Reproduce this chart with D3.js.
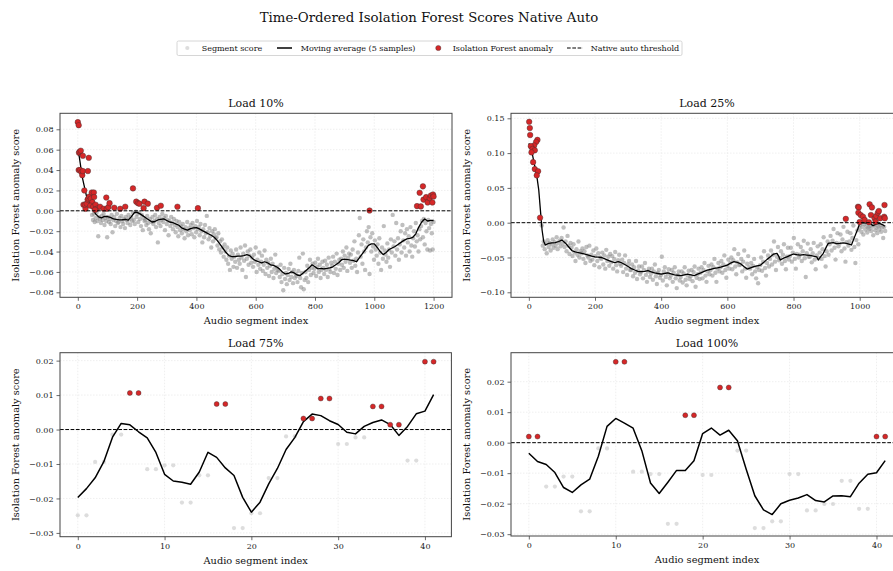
<!DOCTYPE html>
<html>
<head>
<meta charset="utf-8">
<script src="https://cdn.jsdelivr.net/npm/d3@7"></script>
<style>
  body { margin: 0; background: #fff; }
  svg { display: block; font-family: "DejaVu Serif", serif; }
</style>
</head>
<body>
<svg id="chart"></svg>
<script>
// ---- data ----
const THRESHOLD = 0;

// Load 10%: segment scores sampled every 3rd segment from index 48
const load10CloudStart = 48;
const load10Cloud = [
  -.004,-.009,-.003,-.011,-.007,-.002,-.010,-.025,-.006,-.008,
  -.012,-.005,-.009,-.003,-.014,-.007,-.010,-.026,-.006,-.011,
  -.008,-.013,-.004,-.021,-.009,-.006,-.015,-.010,-.003,-.012,
  -.011,-.007,-.016,-.005,-.010,-.013,-.008,-.017,-.006,-.009,
  -.012,-.004,-.008,-.014,-.006,-.010,-.002,-.009,-.013,-.001,
  -.006,-.003,-.011,-.002,-.008,-.015,-.004,-.019,-.007,-.010,
  -.009,-.014,-.005,-.012,-.018,-.008,-.022,-.011,-.006,-.013,
  -.010,-.004,-.016,-.008,-.031,-.012,-.006,-.015,-.009,-.003,
  -.011,-.007,-.019,-.005,-.013,-.009,-.024,-.010,-.015,-.006,
  -.012,-.018,-.008,-.014,-.021,-.010,-.016,-.025,-.011,-.019,
  -.015,-.022,-.013,-.018,-.027,-.016,-.020,-.011,-.024,-.017,
  -.019,-.014,-.023,-.012,-.017,-.026,-.015,-.021,-.010,-.018,
  -.016,-.024,-.013,-.020,-.031,-.018,-.026,-.014,-.022,-.005,
  -.021,-.028,-.017,-.025,-.036,-.020,-.030,-.023,-.018,-.027,
  -.026,-.034,-.022,-.038,-.030,-.041,-.028,-.036,-.045,-.033,
  -.040,-.048,-.036,-.052,-.044,-.058,-.039,-.047,-.042,-.055,
  -.045,-.050,-.038,-.056,-.043,-.048,-.052,-.036,-.046,-.058,
  -.042,-.049,-.034,-.065,-.047,-.040,-.053,-.044,-.038,-.051,
  -.046,-.055,-.043,-.050,-.036,-.060,-.048,-.053,-.041,-.057,
  -.050,-.044,-.059,-.053,-.039,-.062,-.048,-.056,-.051,-.064,
  -.054,-.047,-.060,-.052,-.066,-.057,-.043,-.061,-.055,-.058,
  -.059,-.065,-.053,-.070,-.062,-.078,-.056,-.067,-.061,-.072,
  -.063,-.057,-.068,-.052,-.065,-.060,-.071,-.058,-.066,-.062,
  -.064,-.070,-.059,-.046,-.066,-.075,-.061,-.042,-.077,-.068,
  -.060,-.066,-.054,-.070,-.058,-.048,-.063,-.056,-.052,-.061,
  -.057,-.051,-.064,-.055,-.047,-.060,-.053,-.066,-.058,-.050,
  -.056,-.062,-.049,-.058,-.053,-.065,-.046,-.057,-.060,-.051,
  -.054,-.045,-.061,-.050,-.057,-.042,-.063,-.052,-.048,-.058,
  -.047,-.053,-.040,-.056,-.044,-.050,-.036,-.059,-.046,-.042,
  -.051,-.043,-.056,-.038,-.049,-.030,-.054,-.047,-.060,-.041,
  -.024,-.007,-.045,-.033,-.052,-.028,-.040,-.058,-.036,-.020,
  -.031,-.016,-.062,-.026,-.040,-.022,-.035,-.048,-.029,-.038,
  -.044,-.033,-.052,-.027,-.041,-.058,-.036,-.047,-.015,-.039,
  -.043,-.050,-.032,-.046,-.038,-.055,-.028,-.041,-.004,-.035,
  -.030,-.044,-.012,-.038,-.027,-.048,-.033,-.020,-.041,-.014,
  -.029,-.036,-.022,-.044,-.018,-.031,-.025,-.040,-.016,-.034,
  -.045,-.027,-.020,-.035,-.012,-.030,-.024,-.040,-.018,-.028,
  -.015,-.010,-.026,-.008,-.033,-.012,-.020,-.038,-.009,-.017,
  -.039,-.013,-.022,-.038,-.011
];
const load10Anomalies = [
  [0,.087],[3,.084],[4,.057],[6,.058],[10,.059],[3,.040],[8,.040],[12,.038],[15,.035],
  [17,.054],[17,.039],[22,.020],[19,.006],[26,.002],[24,.006],[30,.007],[33,.011],
  [36,.012],[39,.014],[37,.052],[34,.039],[44,.012],[47,.018],[49,.0085],[42,.005],
  [54,.018],[55,.0135],[52,.004],[60,.006],[64,.002],[58,.001],[75,.004],[87,.002],
  [96,.013],[98,.002],[103,.0036],[107,.0075],[123,.003],[143,.002],[160,.004],
  [186,.022],[197,.009],[203,.0075],[208,.007],[222,.0026],[225,.009],[236,.007],
  [267,.003],[280,.005],[336,.004],[405,.0026],[984,.0003],[1144,.0046],[1153,.0177],
  [1157,.0043],[1164,.024],[1166,.011],[1175,.0134],[1180,.0082],[1187,.0124],
  [1191,.015],[1196,.0082],[1198,.016],[1200,.014]
];
const load10Trend = [
  [0,.0576],[5,.053],[10,.043],[15,.033],[20,.0265],[25,.02],[30,.0134],[40,.007],[50,.002],
  [60,-.003],[70,-.006],[80,-.007],[90,-.0055],[100,-.0056],[110,-.0065],[120,-.008],
  [130,-.0085],[140,-.009],[150,-.0088],[160,-.0085],[170,-.0092],[180,-.006],[190,-.002],
  [195,-.0013],[200,-.0015],[210,-.003],[220,-.005],[230,-.007],[240,-.009],[250,-.011],
  [260,-.0105],[270,-.009],[280,-.0085],[290,-.008],[300,-.0095],[310,-.011],[320,-.0115],
  [330,-.0128],[340,-.014],[350,-.0167],[360,-.018],[370,-.019],[380,-.0175],[390,-.0167],
  [400,-.0165],[410,-.0177],[420,-.0195],[430,-.021],[440,-.0225],[450,-.024],[460,-.026],
  [470,-.029],[480,-.033],[490,-.037],[500,-.041],[510,-.044],[520,-.045],[530,-.045],
  [540,-.0445],[550,-.0445],[560,-.044],[570,-.043],[580,-.044],[590,-.047],[600,-.049],
  [610,-.050],[620,-.051],[630,-.050],[640,-.051],[650,-.053],[660,-.0535],[670,-.055],
  [680,-.057],[690,-.060],[700,-.062],[710,-.0615],[720,-.060],[730,-.061],[740,-.063],
  [750,-.0635],[760,-.061],[770,-.0585],[780,-.056],[790,-.053],[800,-.055],[810,-.057],
  [820,-.0565],[830,-.057],[840,-.0565],[850,-.056],[860,-.055],[870,-.053],[880,-.051],
  [890,-.048],[900,-.0475],[910,-.048],[920,-.0485],[930,-.049],[940,-.050],[950,-.046],
  [960,-.042],[970,-.038],[980,-.034],[990,-.0325],[1000,-.0325],[1010,-.036],[1020,-.040],
  [1030,-.043],[1040,-.041],[1050,-.038],[1060,-.0365],[1070,-.035],[1080,-.033],
  [1090,-.031],[1100,-.029],[1110,-.0275],[1120,-.027],[1130,-.026],[1140,-.0226],
  [1150,-.016],[1160,-.011],[1170,-.008],[1180,-.010],[1190,-.0095],[1200,-.0095]
];

// Load 25%: segment scores sampled every 3rd segment from index 39
const load25CloudStart = 39;
const load25Cloud = [
  -.004,-.033,-.027,-.038,-.030,-.044,-.025,-.035,-.029,-.040,
  -.031,-.024,-.036,-.028,-.033,-.021,-.038,-.029,-.026,-.034,
  -.022,-.030,-.007,-.035,-.027,-.041,-.019,-.033,-.045,-.029,
  -.036,-.048,-.031,-.043,-.055,-.038,-.046,-.027,-.050,-.041,
  -.044,-.037,-.052,-.041,-.058,-.035,-.047,-.050,-.033,-.055,
  -.046,-.053,-.040,-.061,-.048,-.037,-.055,-.044,-.064,-.050,
  -.052,-.043,-.060,-.047,-.066,-.039,-.055,-.049,-.062,-.045,
  -.057,-.048,-.066,-.052,-.042,-.061,-.070,-.054,-.046,-.059,
  -.062,-.053,-.071,-.058,-.047,-.066,-.075,-.060,-.055,-.068,
  -.068,-.060,-.077,-.064,-.072,-.055,-.081,-.069,-.063,-.074,
  -.071,-.063,-.080,-.068,-.058,-.075,-.085,-.070,-.066,-.078,
  -.073,-.066,-.082,-.070,-.060,-.077,-.088,-.072,-.068,-.079,
  -.075,-.049,-.083,-.070,-.064,-.078,-.090,-.073,-.067,-.080,
  -.076,-.068,-.085,-.072,-.064,-.080,-.094,-.075,-.070,-.083,
  -.078,-.070,-.086,-.073,-.064,-.082,-.090,-.076,-.069,-.081,
  -.077,-.068,-.084,-.071,-.063,-.092,-.079,-.074,-.066,-.081,
  -.072,-.064,-.080,-.068,-.058,-.076,-.085,-.070,-.062,-.074,
  -.068,-.060,-.076,-.064,-.052,-.072,-.085,-.066,-.058,-.070,
  -.064,-.055,-.072,-.060,-.047,-.068,-.079,-.062,-.053,-.066,
  -.058,-.050,-.067,-.054,-.038,-.063,-.074,-.057,-.045,-.061,
  -.060,-.052,-.070,-.056,-.040,-.066,-.079,-.059,-.048,-.064,
  -.066,-.058,-.074,-.062,-.052,-.070,-.080,-.064,-.087,-.068,
  -.061,-.050,-.069,-.056,-.041,-.065,-.076,-.058,-.047,-.063,
  -.052,-.040,-.060,-.046,-.027,-.056,-.068,-.049,-.035,-.054,
  -.051,-.041,-.059,-.046,-.031,-.055,-.067,-.049,-.036,-.053,
  -.048,-.036,-.056,-.043,-.022,-.052,-.066,-.045,-.031,-.050,
  -.046,-.035,-.055,-.041,-.026,-.051,-.078,-.044,-.030,-.049,
  -.049,-.038,-.057,-.044,-.029,-.053,-.067,-.047,-.034,-.051,
  -.043,-.031,-.052,-.038,-.021,-.048,-.063,-.041,-.027,-.046,
  -.031,-.019,-.040,-.026,-.009,-.036,-.053,-.029,-.015,-.034,
  -.030,-.017,-.041,-.024,-.006,-.037,-.056,-.028,-.013,-.033,
  -.027,-.015,-.039,-.022,-.004,-.035,-.058,-.025,-.011,-.031,
  -.008,-.003,-.013,-.006,-.017,-.002,-.010,-.005,-.014,-.007,
  -.009,-.004,-.012,-.006,-.018,-.003,-.011,-.007,-.015,-.005,
  -.010,-.004,-.013,-.007,-.022,-.006,-.012
];
const load25Anomalies = [
  [1,.145],[3,.136],[4,.126],[26,.119],[22,.116],[16,.111],[6,.110],[11,.106],[18,.104],
  [8,.101],[13,.087],[18,.077],[28,.074],[24,.068],[34,.0072],[958,.0055],[995,.023],
  [997,.022],[996,.0144],[1000,.001],[1003,.011],[1010,.0086],[1015,.004],[1028,.0006],
  [1030,.0265],[1037,.022],[1034,.011],[1045,.0063],[1048,.0015],[1050,.0096],
  [1055,.0144],[1058,.0168],[1062,.0063],[1074,.0086],[1075,.0254],[1076,.0063]
];
const load25Trend = [
  [0,.114],[5,.109],[10,.1],[15,.088],[20,.077],[25,.064],[30,.047],[35,.018],[40,-.0105],
  [45,-.027],[50,-.032],[60,-.0297],[70,-.029],[80,-.0287],[90,-.027],[100,-.025],
  [110,-.029],[120,-.0345],[130,-.040],[140,-.042],[150,-.043],[160,-.044],[170,-.045],
  [180,-.0465],[190,-.048],[200,-.049],[210,-.0495],[220,-.050],[230,-.052],[240,-.054],
  [250,-.056],[260,-.0575],[270,-.056],[280,-.0575],[290,-.060],[300,-.063],[310,-.066],
  [320,-.068],[330,-.070],[340,-.0704],[350,-.070],[360,-.069],[370,-.0705],[380,-.072],
  [390,-.073],[400,-.074],[410,-.073],[420,-.072],[430,-.0735],[440,-.075],[450,-.0755],
  [460,-.076],[470,-.075],[480,-.074],[490,-.075],[500,-.076],[510,-.074],[520,-.072],
  [530,-.070],[540,-.068],[550,-.067],[560,-.0656],[570,-.065],[580,-.064],[590,-.0625],
  [600,-.061],[610,-.058],[620,-.056],[630,-.057],[640,-.059],[650,-.063],[660,-.0666],
  [670,-.065],[680,-.063],[690,-.062],[700,-.061],[710,-.057],[720,-.0527],[730,-.049],
  [740,-.045],[750,-.044],[755,-.048],[760,-.0536],[770,-.051],[780,-.049],[790,-.047],
  [800,-.045],[810,-.046],[820,-.0465],[830,-.046],[840,-.0465],[850,-.047],[860,-.048],
  [870,-.049],[875,-.0536],[880,-.050],[890,-.044],[900,-.034],[905,-.0297],[920,-.0287],
  [930,-.030],[940,-.0297],[950,-.029],[960,-.0297],[970,-.031],[975,-.032],[985,-.020],
  [995,-.008],[1000,-.001],[1010,.000],[1020,-.0005],[1030,.000],[1040,-.0043],
  [1050,-.002],[1060,-.001],[1070,-.003],[1076,-.005]
];

// Load 75% and 100%: every segment score
const load75Scores = [
  -.0249,-.0249,-.0094,-.0094,-.00145,-.00145,.0106,.0106,-.0115,-.0115,
  -.0104,-.0104,-.0212,-.0212,-.0133,-.0133,.0074,.0074,-.0286,-.0286,
  -.0243,-.0243,-.0141,-.0141,-.0020,-.0020,.0032,.0032,.0090,.0090,
  -.0042,-.0042,-.0023,-.0023,.0067,.0067,.0014,.0014,-.0090,-.0090,
  .0197,.0197
];
const load100Scores = [
  .0020,.0020,-.0144,-.0144,-.0111,-.0111,-.0225,-.0225,-.0019,-.0019,
  .0265,.0265,-.0095,-.0095,-.0103,-.0103,-.0266,-.0266,.0090,.0090,
  -.0106,-.0106,.0181,.0181,-.0026,-.0026,-.0280,-.0280,-.0258,-.0258,
  -.0103,-.0103,-.0222,-.0222,-.0201,-.0201,-.0125,-.0125,-.0217,-.0217,
  .0020,.0020
];

const legendLabels = ["Segment score", "Moving average (5 samples)", "Isolation Forest anomaly", "Native auto threshold"];

// ---- helpers ----
function cloudPoints(start, values) {
  return values.map((v, k) => ({ i: start + k * 3, v }));
}
// centred rolling mean, window 5, partial windows at the edges
function movingAverage(values, win) {
  const h = Math.floor(win / 2);
  return values.map((_, i) => {
    const s = values.slice(Math.max(0, i - h), Math.min(values.length, i + h + 1));
    return [i, d3.mean(s)];
  });
}
function steps(a, b, s) {
  const n = Math.round((b - a) / s);
  return d3.range(n + 1).map((k) => +(a + k * s).toFixed(4));
}

const panels = [
  {
    title: "Load 10%", box: [60, 113.3, 392, 184],
    xDomain: [-60.1, 1262.1], yDomain: [-0.0849, 0.0957],
    xTicks: steps(0, 1200, 200), yTicks: steps(-0.08, 0.08, 0.02),
    gray: cloudPoints(load10CloudStart, load10Cloud),
    red: load10Anomalies.map(([i, v]) => ({ i, v })),
    trend: load10Trend, dense: true,
  },
  {
    title: "Load 25%", box: [511, 113.3, 392, 184],
    xDomain: [-53.9, 1130.9], yDomain: [-0.1072, 0.1572],
    xTicks: steps(0, 1000, 200), yTicks: steps(-0.1, 0.15, 0.05),
    gray: cloudPoints(load25CloudStart, load25Cloud),
    red: load25Anomalies.map(([i, v]) => ({ i, v })),
    trend: load25Trend, dense: true,
  },
  {
    title: "Load 75%", box: [60, 352.7, 391.4, 184],
    xDomain: [-2.05, 43.05], yDomain: [-0.0311, 0.0223],
    xTicks: steps(0, 40, 10), yTicks: steps(-0.03, 0.02, 0.01),
    gray: load75Scores.map((v, i) => ({ i, v })).filter((d) => d.v <= THRESHOLD),
    red: load75Scores.map((v, i) => ({ i, v })).filter((d) => d.v > THRESHOLD),
    trend: movingAverage(load75Scores, 5), dense: false,
  },
  {
    title: "Load 100%", box: [511, 352.7, 392, 183.3],
    xDomain: [-2.05, 43.05], yDomain: [-0.0306, 0.0295],
    xTicks: steps(0, 40, 10), yTicks: steps(-0.03, 0.02, 0.01),
    gray: load100Scores.map((v, i) => ({ i, v })).filter((d) => d.v <= THRESHOLD),
    red: load100Scores.map((v, i) => ({ i, v })).filter((d) => d.v > THRESHOLD),
    trend: movingAverage(load100Scores, 5), dense: false,
  },
];

// ---- drawing ----
const W = 893, H = 571;
const RED = "#d62728";
const svg = d3.select("#chart").attr("width", W).attr("height", H);
const defs = svg.append("defs");

svg.append("text")
  .attr("x", 429).attr("y", 22)
  .attr("text-anchor", "middle")
  .attr("font-size", 13.3)
  .attr("fill", "#111")
  .text("Time-Ordered Isolation Forest Scores Native Auto");

// legend
const legend = svg.append("g");
legend.append("rect")
  .attr("x", 177).attr("y", 41).attr("width", 505).attr("height", 14.5)
  .attr("rx", 1.5).attr("fill", "#fff").attr("stroke", "#ccc").attr("stroke-width", 0.8);
const ly = 48;
legend.append("circle").attr("cx", 187.3).attr("cy", ly).attr("r", 2.1)
  .attr("fill", "#bbb").attr("opacity", 0.5);
legend.append("line").attr("x1", 277).attr("x2", 292).attr("y1", ly).attr("y2", ly)
  .attr("stroke", "#000").attr("stroke-width", 1.5);
legend.append("circle").attr("cx", 438.3).attr("cy", ly).attr("r", 2.6)
  .attr("fill", RED).attr("stroke", "#333").attr("stroke-width", 0.4);
legend.append("line").attr("x1", 567).attr("x2", 583).attr("y1", ly).attr("y2", ly)
  .attr("stroke", "#000").attr("stroke-width", 1).attr("stroke-dasharray", "3.7,1.6");
legend.selectAll("text.leg")
  .data(legendLabels)
  .join("text")
  .attr("class", "leg")
  .attr("x", (d, k) => [201.7, 300.7, 452.7, 590.7][k])
  .attr("y", ly + 3)
  .attr("font-size", 8)
  .attr("fill", "#111")
  .text((d) => d);

const fmt = d3.format(".2f");

panels.forEach((p, n) => {
  const [left, top, w, h] = p.box;
  const x = d3.scaleLinear().domain(p.xDomain).range([left, left + w]);
  const y = d3.scaleLinear().domain(p.yDomain).range([top + h, top]);
  const g = svg.append("g");

  defs.append("clipPath").attr("id", "clip" + n)
    .append("rect").attr("x", left).attr("y", top).attr("width", w).attr("height", h);

  // grid
  const grid = g.append("g").attr("stroke", "#e4e4e4").attr("stroke-width", 0.6)
    .attr("stroke-dasharray", "1.5,1.5");
  grid.selectAll("line.gx").data(p.xTicks).join("line").attr("class", "gx")
    .attr("x1", (d) => x(d)).attr("x2", (d) => x(d)).attr("y1", top).attr("y2", top + h);
  grid.selectAll("line.gy").data(p.yTicks).join("line").attr("class", "gy")
    .attr("x1", left).attr("x2", left + w).attr("y1", (d) => y(d)).attr("y2", (d) => y(d));

  const plot = g.append("g").attr("clip-path", `url(#clip${n})`);

  plot.selectAll("circle.seg").data(p.gray).join("circle").attr("class", "seg")
    .attr("cx", (d) => x(d.i)).attr("cy", (d) => y(d.v))
    .attr("r", p.dense ? 2.2 : 2.1)
    .attr("fill", p.dense ? "#8a8a8a" : "#bbb")
    .attr("opacity", p.dense ? 0.55 : 0.5);

  plot.append("path").datum(p.trend)
    .attr("fill", "none").attr("stroke", "#000")
    .attr("stroke-width", p.dense ? 1.3 : 1.5)
    .attr("stroke-linejoin", "round")
    .attr("d", d3.line().x((d) => x(d[0])).y((d) => y(d[1])));

  plot.selectAll("circle.anom").data(p.red).join("circle").attr("class", "anom")
    .attr("cx", (d) => x(d.i)).attr("cy", (d) => y(d.v))
    .attr("r", p.dense ? 2.8 : 2.5)
    .attr("fill", RED).attr("stroke", "#333").attr("stroke-width", 0.4);

  plot.append("line")
    .attr("x1", left).attr("x2", left + w).attr("y1", y(THRESHOLD)).attr("y2", y(THRESHOLD))
    .attr("stroke", "#000").attr("stroke-width", 1).attr("stroke-dasharray", "3.7,1.6");

  // axes
  const xAxis = g.append("g").attr("transform", `translate(0,${top + h})`)
    .call(d3.axisBottom(x).tickValues(p.xTicks).tickSize(3.5).tickPadding(3).tickFormat(d3.format("d")));
  const yAxis = g.append("g").attr("transform", `translate(${left},0)`)
    .call(d3.axisLeft(y).tickValues(p.yTicks).tickSize(3.5).tickPadding(3).tickFormat(fmt));
  [xAxis, yAxis].forEach((a) => {
    a.select(".domain").remove();
    a.selectAll(".tick line").attr("stroke", "#444").attr("stroke-width", 0.8);
    a.selectAll(".tick text").attr("font-family", "DejaVu Serif").attr("font-size", 8).attr("fill", "#222");
  });

  g.append("rect")
    .attr("x", left).attr("y", top).attr("width", w).attr("height", h)
    .attr("fill", "none").attr("stroke", "#444").attr("stroke-width", 1);

  g.append("text")
    .attr("x", left + w / 2).attr("y", top - 6)
    .attr("text-anchor", "middle").attr("font-size", 11).attr("fill", "#111")
    .text(p.title);

  g.append("text")
    .attr("x", left + w / 2).attr("y", top + h + 27)
    .attr("text-anchor", "middle").attr("font-size", 9.8).attr("fill", "#111")
    .text("Audio segment index");

  g.append("text")
    .attr("transform", `translate(${left - 41},${top + h / 2}) rotate(-90)`)
    .attr("text-anchor", "middle").attr("font-size", 9.8).attr("fill", "#111")
    .text("Isolation Forest anomaly score");
});
</script>
</body>
</html>
